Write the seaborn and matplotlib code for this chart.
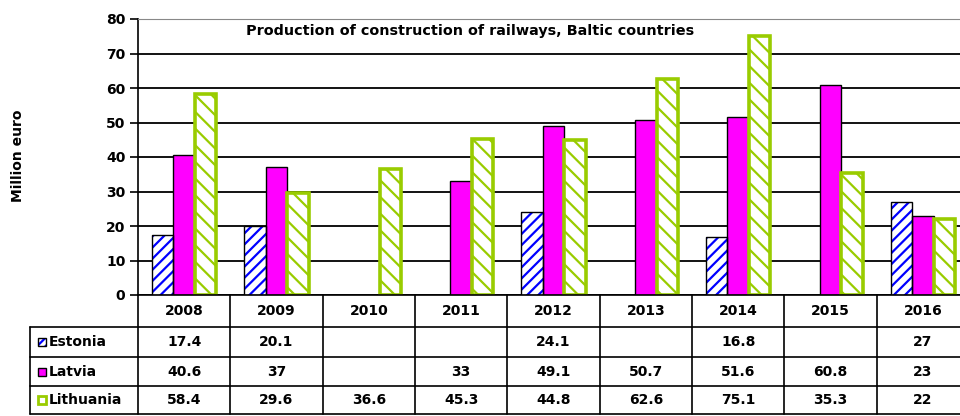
import numpy as np
import pandas as pd
import matplotlib
matplotlib.use("Agg")
import matplotlib.pyplot as plt
import matplotlib.transforms as mtransforms
from matplotlib.patches import Rectangle
import seaborn as sns

# ---- data ----
years = ["2008", "2009", "2010", "2011", "2012", "2013", "2014", "2015", "2016"]
countries = ["Estonia", "Latvia", "Lithuania"]
estonia = [17.4, 20.1, np.nan, np.nan, 24.1, np.nan, 16.8, np.nan, 27]
latvia = [40.6, 37, np.nan, 33, 49.1, 50.7, 51.6, 60.8, 23]
lithuania = [58.4, 29.6, 36.6, 45.3, 44.8, 62.6, 75.1, 35.3, 22]
title = "Production of construction of railways, Baltic countries"
ylabel = "Million euro"

series = {"Estonia": estonia, "Latvia": latvia, "Lithuania": lithuania}
rows = []
for c in countries:
    for y, v in zip(years, series[c]):
        rows.append({"year": y, "country": c, "value": v})
df = pd.DataFrame(rows).dropna()

sns.set_style("white")
plt.rcParams["font.family"] = ["DejaVu Sans"]
plt.rcParams["font.weight"] = "bold"
plt.rcParams["hatch.linewidth"] = 1.6
for k in ["text.color", "axes.labelcolor", "xtick.color", "ytick.color"]:
    plt.rcParams[k] = "black"

BLUE = "#0000FF"
MAG = "#FF00FF"
GREEN = "#99CC00"
FS = 10

W, H = 960, 416
fig = plt.figure(figsize=(W / 100, H / 100), dpi=100)
L_px, R_px, T_px, B_px = 138, 969, 19, 295
ax = fig.add_axes([L_px / W, 1 - B_px / H, (R_px - L_px) / W, (B_px - T_px) / H])

sns.barplot(data=df, x="year", y="value", hue="country", order=years,
            hue_order=countries, palette=[BLUE, MAG, GREEN], saturation=1,
            width=0.7, legend=False, ax=ax, err_kws={"linewidth": 0})

conts = ax.containers
for bar in conts[0]:
    bar.set_facecolor("white")
    bar.set_edgecolor(BLUE)
    bar.set_hatch("///")
    bar.set_linewidth(0)
    ax.add_patch(Rectangle(bar.get_xy(), bar.get_width(), bar.get_height(),
                           fill=False, edgecolor="black", lw=1.0,
                           zorder=bar.get_zorder() + 0.1))
for bar in conts[1]:
    bar.set_facecolor(MAG)
    bar.set_edgecolor("black")
    bar.set_linewidth(1.0)
for bar in conts[2]:
    bar.set_facecolor("white")
    bar.set_edgecolor(GREEN)
    bar.set_hatch("\\\\")
    bar.set_linewidth(2.6)

ax.set_ylim(0, 80)
ax.set_xlim(-0.5, len(years) - 0.5)
ax.set_yticks(range(0, 81, 10))
ax.yaxis.grid(True, color="black", lw=1.3)
ax.set_axisbelow(True)
ax.tick_params(axis="y", left=True, length=6, width=1.2, labelsize=FS, pad=3)
ax.tick_params(axis="x", bottom=False, labelbottom=False)
for lab in ax.get_yticklabels():
    lab.set_fontweight("bold")
ax.set_xlabel("")
ax.set_ylabel("")
ax.spines["right"].set_visible(False)
ax.spines["top"].set_color("#888888")
ax.spines["left"].set_color("black")
ax.spines["left"].set_linewidth(1.2)
ax.spines["bottom"].set_color("black")
ax.spines["bottom"].set_linewidth(1.2)

ax.text(0.40, 0.958, title, transform=ax.transAxes, ha="center", va="center",
        fontsize=10.4, fontweight="bold")
fig.text(18 / W, 1 - 156 / H, ylabel, rotation=90, ha="center", va="center",
         fontsize=FS, fontweight="bold")

# ---- data table ----
cw = (R_px - L_px) / len(years)
ah = B_px - T_px
tr = mtransforms.blended_transform_factory(ax.transData, ax.transAxes)


def xd(px):
    return -0.5 + (px - L_px) / cw


def yd(py):
    return -(py - B_px) / ah


row_edges = [B_px, 327, 357, 386, 414]
label_left = xd(30)
lkw = dict(color="black", lw=1.2, transform=tr, clip_on=False)
for i in range(len(years) + 1):
    ax.plot([i - 0.5, i - 0.5], [0, yd(row_edges[-1])], **lkw)
ax.plot([label_left, label_left], [yd(row_edges[1]), yd(row_edges[-1])], **lkw)
for e in row_edges[1:]:
    ax.plot([label_left, len(years) - 0.5], [yd(e), yd(e)], **lkw)

tkw = dict(transform=tr, ha="center", va="center", fontsize=FS,
           fontweight="bold", clip_on=False)
hy = yd((row_edges[0] + row_edges[1]) / 2)
for i, y in enumerate(years):
    ax.text(i, hy, y, **tkw)


def fmt(v):
    if np.isnan(v):
        return ""
    return ("%g" % v)


key_styles = [
    dict(facecolor="white", edgecolor=BLUE, hatch="////", lw=0),
    dict(facecolor=MAG, edgecolor="black", lw=1),
    dict(facecolor="white", edgecolor=GREEN, lw=2),
]
for r, c in enumerate(countries):
    cy = yd((row_edges[r + 1] + row_edges[r + 2]) / 2)
    for i, v in enumerate(series[c]):
        ax.text(i, cy, fmt(v), **tkw)
    kx0, kx1 = xd(38), xd(46)
    kh = 8 / ah
    ax.add_patch(Rectangle((kx0, cy - kh / 2), kx1 - kx0, kh, transform=tr,
                           clip_on=False, **key_styles[r]))
    if r == 0:
        ax.add_patch(Rectangle((kx0, cy - kh / 2), kx1 - kx0, kh, transform=tr,
                               clip_on=False, fill=False, edgecolor="black", lw=1))
    ax.text(xd(49), cy, c, transform=tr, ha="left", va="center", fontsize=FS,
            fontweight="bold", clip_on=False)

fig.savefig("out.png", dpi=100)
